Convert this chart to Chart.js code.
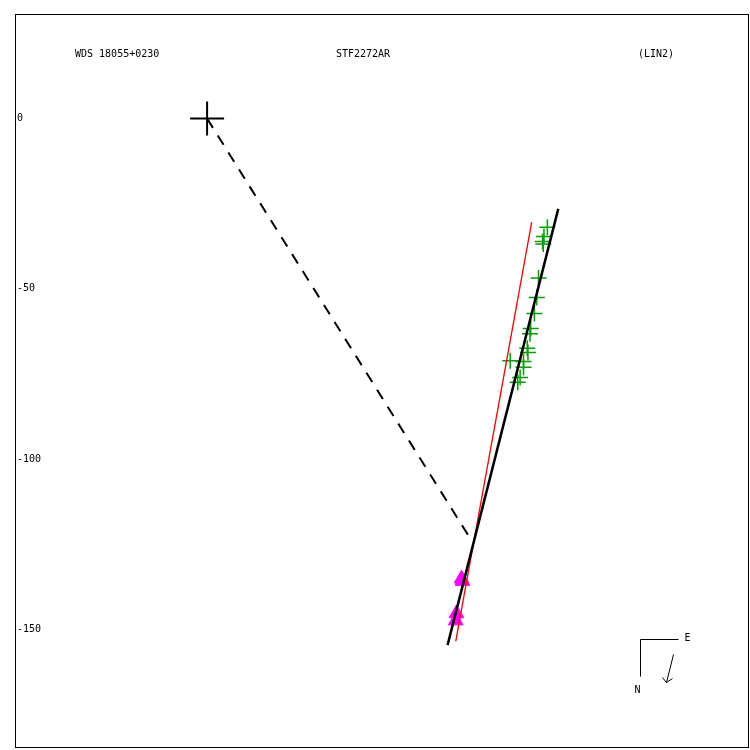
<!DOCTYPE html>
<html>
<head>
<meta charset="utf-8">
<script src="https://cdn.jsdelivr.net/npm/chart.js@4"></script>
<style>
  html, body { margin: 0; padding: 0; background: #fff; }
  #wrap { width: 750px; height: 750px; }
</style>
</head>
<body>
<div id="wrap"><canvas id="orbitCanvas" width="750" height="750"></canvas></div>
<script>
// header texts
const titleLeft = 'WDS 18055+0230';
const titleMid = 'STF2272AR';
const titleRight = '(LIN2)';

// y tick labels
const yTicks = [0, -50, -100, -150];

// primary star
const originX = [0];
const originY = [0];

// green observations
const obsX = [99.9, 98.9, 98.7, 98.5, 97.3, 96.8, 96.1, 95.0, 94.8, 94.0, 94.2, 92.9, 89.0, 92.9, 91.9, 91.2];
const obsY = [-31.9, -34.6, -36.8, -36.1, -46.8, -52.5, -57.2, -61.6, -63.2, -67.4, -68.7, -71.3, -71.1, -73.0, -76.0, -77.4];

// magenta observations
const triX = [74.7, 75.0, 73.2, 73.0];
const triY = [-135.1, -135.8, -145.3, -147.4];

// black fit line
const fitX = [103.1, 70.6];
const fitY = [-26.5, -154.6];

// red line
const redX = [95.3, 73.0];
const redY = [-30.4, -153.5];

// dashed connector
const dashX = [0, 76.9];
const dashY = [0, -122.7];

const toPts = (xs, ys) => xs.map((x, i) => ({ x: x, y: ys[i] }));

const FONT = '10px "DejaVu Sans Mono", monospace';

const framePlugin = {
  id: 'frame',
  afterDraw: (chart) => {
    const ctx = chart.ctx;
    const a = chart.chartArea;
    const yScale = chart.scales.y;
    ctx.save();
    // frame
    ctx.strokeStyle = '#000';
    ctx.lineWidth = 1;
    ctx.strokeRect(a.left + 0.5, a.top + 0.5, a.right - a.left - 1, a.bottom - a.top - 1);

    ctx.fillStyle = '#000';
    ctx.font = FONT;
    ctx.textBaseline = 'middle';
    // y tick labels
    ctx.textAlign = 'left';
    yTicks.forEach((v) => {
      ctx.fillText(String(v), a.left + 2, yScale.getPixelForValue(v));
    });
    // titles
    ctx.fillText(titleLeft, a.left + 60, a.top + 40);
    ctx.textAlign = 'center';
    ctx.fillText(titleMid, a.left + 348, a.top + 40);
    ctx.textAlign = 'left';
    ctx.fillText(titleRight, a.left + 623, a.top + 40);

    // compass
    const cx = a.left + 625.5, cy = a.top + 625.5;
    ctx.beginPath();
    ctx.moveTo(cx, cy + 37);
    ctx.lineTo(cx, cy);
    ctx.lineTo(cx + 38, cy);
    ctx.stroke();
    ctx.fillText('E', cx + 44, cy - 1);
    ctx.fillText('N', cx - 6, cy + 51);
    // arrow
    ctx.beginPath();
    ctx.moveTo(cx + 33, cy + 15);
    ctx.lineTo(cx + 26, cy + 43);
    ctx.moveTo(cx + 22, cy + 38);
    ctx.lineTo(cx + 26, cy + 43);
    ctx.lineTo(cx + 32, cy + 39);
    ctx.stroke();
    ctx.restore();
  }
};

const ctx = document.getElementById('orbitCanvas').getContext('2d');
const chart = new Chart(ctx, {
  type: 'scatter',
  data: {
    datasets: [
      {
        label: 'fit',
        data: toPts(fitX, fitY),
        showLine: true,
        borderColor: '#000',
        borderWidth: 2.5,
        pointRadius: 0,
        order: 0
      },
      {
        label: 'red',
        data: toPts(redX, redY),
        showLine: true,
        borderColor: '#ff0000',
        borderWidth: 1.3,
        pointRadius: 0,
        order: 1
      },
      {
        label: 'dash',
        data: toPts(dashX, dashY),
        showLine: true,
        borderColor: '#000',
        borderWidth: 2,
        borderDash: [11, 9],
        pointRadius: 0,
        order: 2
      },
      {
        label: 'green',
        data: toPts(obsX, obsY),
        pointStyle: 'cross',
        pointRadius: 8,
        borderColor: '#00a000',
        borderWidth: 1.5,
        order: 3
      },
      {
        label: 'magenta',
        data: toPts(triX, triY),
        pointStyle: 'triangle',
        pointRadius: 8.5,
        backgroundColor: '#ff00ff',
        borderColor: '#ff00ff',
        borderWidth: 1,
        order: 4
      },
      {
        label: 'origin',
        data: toPts(originX, originY),
        pointStyle: 'cross',
        pointRadius: 17,
        borderColor: '#000',
        borderWidth: 2,
        order: 5
      }
    ]
  },
  options: {
    responsive: false,
    animation: false,
    layout: { autoPadding: false, padding: { left: 15, top: 14, right: 1, bottom: 2 } },
    scales: {
      x: { type: 'linear', display: false, min: -56.4, max: 159.1 },
      y: { type: 'linear', display: false, min: -184.8, max: 30.7 }
    },
    plugins: {
      legend: { display: false },
      tooltip: { enabled: false }
    }
  },
  plugins: [framePlugin]
});
</script>
</body>
</html>
